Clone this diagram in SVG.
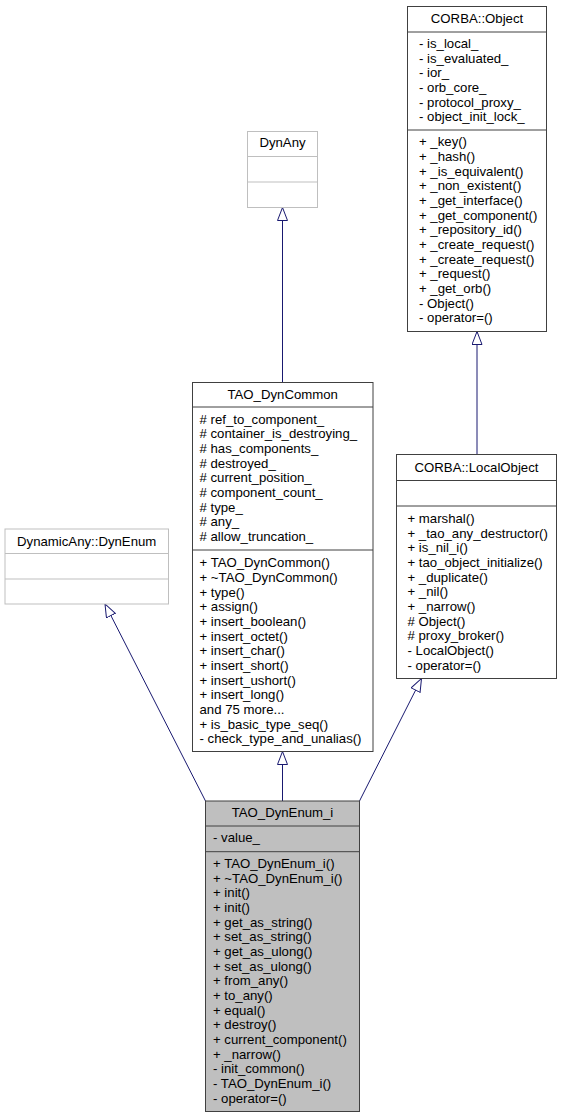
<svg xmlns="http://www.w3.org/2000/svg" width="563" height="1117" viewBox="0 0 563 1117">
<style>
text{font-family:"Liberation Sans",Arial,Helvetica,sans-serif;font-size:13.2px;fill:#000}
.t{text-anchor:middle}
.box{fill:#fff;stroke:#404040;stroke-width:1}
.gbox{fill:#fff;stroke:#bfbfbf;stroke-width:1}
.cur{fill:#bfbfbf;stroke:#404040;stroke-width:1}
.div{stroke:#404040;stroke-width:1}
.gdiv{stroke:#bfbfbf;stroke-width:1}
.edge{fill:none;stroke:#191970;stroke-width:1;marker-end:url(#tri)}
</style>
<defs>
<marker id="tri" markerUnits="userSpaceOnUse" markerWidth="15" markerHeight="12" refX="13.5" refY="5.5" orient="auto">
<path d="M0.5,0.5 L13.5,5.5 L0.5,10.5 Z" fill="#fff" stroke="#191970" stroke-width="1"/>
</marker>
</defs>
<g id="edges">
<path class="edge" d="M282.5,382.5 L282.5,207.5"/>
<path class="edge" d="M477,454.5 L477,331.5"/>
<path class="edge" d="M282.5,801 L282.5,751.5"/>
<path class="edge" d="M205.5,801 L105,604"/>
<path class="edge" d="M359.5,801 L421.5,678.5"/>
</g>
<g id="corba_object">
<rect class="box" x="407.5" y="6.5" width="139" height="325"/>
<line class="div" x1="407.5" y1="32" x2="546.5" y2="32"/>
<line class="div" x1="407.5" y1="130" x2="546.5" y2="130"/>
<text class="t" x="477" y="22.8">CORBA::Object</text>
<text><tspan x="419" y="47.8">- is_local_</tspan><tspan x="419" y="62.5">- is_evaluated_</tspan><tspan x="419" y="77.1">- ior_</tspan><tspan x="419" y="91.8">- orb_core_</tspan><tspan x="419" y="106.5">- protocol_proxy_</tspan><tspan x="419" y="121.2">- object_init_lock_</tspan></text>
<text><tspan x="419" y="146.2">+ _key()</tspan><tspan x="419" y="160.9">+ _hash()</tspan><tspan x="419" y="175.5">+ _is_equivalent()</tspan><tspan x="419" y="190.2">+ _non_existent()</tspan><tspan x="419" y="204.9">+ _get_interface()</tspan><tspan x="419" y="219.6">+ _get_component()</tspan><tspan x="419" y="234.2">+ _repository_id()</tspan><tspan x="419" y="248.9">+ _create_request()</tspan><tspan x="419" y="263.6">+ _create_request()</tspan><tspan x="419" y="278.2">+ _request()</tspan><tspan x="419" y="292.9">+ _get_orb()</tspan><tspan x="419" y="307.6">- Object()</tspan><tspan x="419" y="322.2">- operator=()</tspan></text>
</g>
<g id="dynany">
<rect class="gbox" x="247.5" y="131.5" width="70" height="76"/>
<line class="gdiv" x1="247.5" y1="156.5" x2="317.5" y2="156.5"/>
<line class="gdiv" x1="247.5" y1="182" x2="317.5" y2="182"/>
<text class="t" x="282.5" y="147.2">DynAny</text>
</g>
<g id="tao_dyncommon">
<rect class="box" x="192.5" y="382.5" width="180.5" height="369"/>
<line class="div" x1="192.5" y1="407" x2="373" y2="407"/>
<line class="div" x1="192.5" y1="550" x2="373" y2="550"/>
<text class="t" x="282.7" y="399.3">TAO_DynCommon</text>
<text><tspan x="199.5" y="423.5"># ref_to_component_</tspan><tspan x="199.5" y="438.2"># container_is_destroying_</tspan><tspan x="199.5" y="452.8"># has_components_</tspan><tspan x="199.5" y="467.5"># destroyed_</tspan><tspan x="199.5" y="482.2"># current_position_</tspan><tspan x="199.5" y="496.8"># component_count_</tspan><tspan x="199.5" y="511.5"># type_</tspan><tspan x="199.5" y="526.2"># any_</tspan><tspan x="199.5" y="540.9"># allow_truncation_</tspan></text>
<text><tspan x="199.5" y="567.2">+ TAO_DynCommon()</tspan><tspan x="199.5" y="581.9">+ ~TAO_DynCommon()</tspan><tspan x="199.5" y="596.5">+ type()</tspan><tspan x="199.5" y="611.2">+ assign()</tspan><tspan x="199.5" y="625.9">+ insert_boolean()</tspan><tspan x="199.5" y="640.5">+ insert_octet()</tspan><tspan x="199.5" y="655.2">+ insert_char()</tspan><tspan x="199.5" y="669.9">+ insert_short()</tspan><tspan x="199.5" y="684.5">+ insert_ushort()</tspan><tspan x="199.5" y="699.2">+ insert_long()</tspan><tspan x="199.5" y="713.9">and 75 more...</tspan><tspan x="199.5" y="728.5">+ is_basic_type_seq()</tspan><tspan x="199.5" y="743.2">- check_type_and_unalias()</tspan></text>
</g>
<g id="corba_localobject">
<rect class="box" x="396.5" y="454.5" width="160" height="224"/>
<line class="div" x1="396.5" y1="480.5" x2="556.5" y2="480.5"/>
<line class="div" x1="396.5" y1="506" x2="556.5" y2="506"/>
<text class="t" x="476.5" y="472">CORBA::LocalObject</text>
<text><tspan x="407.5" y="522.8">+ marshal()</tspan><tspan x="407.5" y="537.5">+ _tao_any_destructor()</tspan><tspan x="407.5" y="552.1">+ is_nil_i()</tspan><tspan x="407.5" y="566.8">+ tao_object_initialize()</tspan><tspan x="407.5" y="581.5">+ _duplicate()</tspan><tspan x="407.5" y="596.1">+ _nil()</tspan><tspan x="407.5" y="610.8">+ _narrow()</tspan><tspan x="407.5" y="625.5"># Object()</tspan><tspan x="407.5" y="640.2"># proxy_broker()</tspan><tspan x="407.5" y="654.8">- LocalObject()</tspan><tspan x="407.5" y="669.5">- operator=()</tspan></text>
</g>
<g id="dynenum">
<rect class="gbox" x="5" y="529" width="163.5" height="75"/>
<line class="gdiv" x1="5" y1="553.5" x2="168.5" y2="553.5"/>
<line class="gdiv" x1="5" y1="579" x2="168.5" y2="579"/>
<text class="t" x="86.7" y="545.5">DynamicAny::DynEnum</text>
</g>
<g id="tao_dynenum_i">
<rect class="cur" x="205.5" y="801" width="154" height="310.5"/>
<line class="div" x1="205.5" y1="826" x2="359.5" y2="826"/>
<line class="div" x1="205.5" y1="851.7" x2="359.5" y2="851.7"/>
<text class="t" x="282.5" y="817.3">TAO_DynEnum_i</text>
<text x="213" y="842.2">- value_</text>
<text><tspan x="213" y="867.8">+ TAO_DynEnum_i()</tspan><tspan x="213" y="882.5">+ ~TAO_DynEnum_i()</tspan><tspan x="213" y="897.1">+ init()</tspan><tspan x="213" y="911.8">+ init()</tspan><tspan x="213" y="926.5">+ get_as_string()</tspan><tspan x="213" y="941.1">+ set_as_string()</tspan><tspan x="213" y="955.8">+ get_as_ulong()</tspan><tspan x="213" y="970.5">+ set_as_ulong()</tspan><tspan x="213" y="985.2">+ from_any()</tspan><tspan x="213" y="999.8">+ to_any()</tspan><tspan x="213" y="1014.5">+ equal()</tspan><tspan x="213" y="1029.2">+ destroy()</tspan><tspan x="213" y="1043.8">+ current_component()</tspan><tspan x="213" y="1058.5">+ _narrow()</tspan><tspan x="213" y="1073.2">- init_common()</tspan><tspan x="213" y="1087.8">- TAO_DynEnum_i()</tspan><tspan x="213" y="1102.5">- operator=()</tspan></text>
</g>
</svg>
